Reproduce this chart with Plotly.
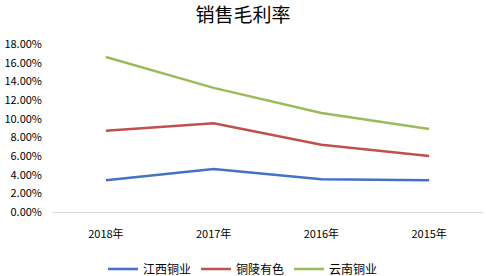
import plotly.graph_objects as go

categories = ["2018年", "2017年", "2016年", "2015年"]
jiangxi = [0.034, 0.046, 0.035, 0.034]
tongling = [0.087, 0.095, 0.072, 0.060]
yunnan = [0.166, 0.133, 0.106, 0.089]
series_names = ["江西铜业", "铜陵有色", "云南铜业"]
colors = ["#4472C4", "#C0504D", "#9BBB59"]
y_ticks = [i * 0.02 for i in range(10)]

fig = go.Figure()
for name, vals, c in zip(series_names, [jiangxi, tongling, yunnan], colors):
    fig.add_trace(go.Scatter(x=categories, y=vals, mode="lines", name=name,
                             line=dict(color=c, width=2.5)))

font_main = "Noto Sans CJK SC, Liberation Sans, sans-serif"
fig.update_layout(
    width=486, height=276,
    margin=dict(l=52, r=3, t=44, b=64),
    paper_bgcolor="white", plot_bgcolor="white",
    font=dict(family=font_main, size=11, color="#000000"),
    title=dict(text="销售毛利率", x=0.5, xref="container", xanchor="center",
               y=0.945, yanchor="middle", yref="container",
               font=dict(size=19, color="#000000", family=font_main)),
    xaxis=dict(type="category", range=[-0.5, 3.5], showgrid=False,
               showline=True, linecolor="#D9D9D9", linewidth=1,
               ticks="", tickfont=dict(size=11, color="#000000"),
               ticklabelstandoff=12, zeroline=False),
    yaxis=dict(range=[0, 0.18], tickvals=y_ticks, tickformat=".2%",
               showgrid=False, showline=False, zeroline=False,
               tickfont=dict(size=11, color="#000000"), ticks="",
               ticklabelstandoff=9),
    legend=dict(orientation="h", x=0.5, xref="container", xanchor="center",
                y=0.025, yref="container", yanchor="middle",
                font=dict(size=12, color="#000000"),
                itemwidth=30, tracegroupgap=0),
    showlegend=True,
)
fig.write_html("out.html", config={"displayModeBar": False},
               post_script="document.body.style.margin='0';")
